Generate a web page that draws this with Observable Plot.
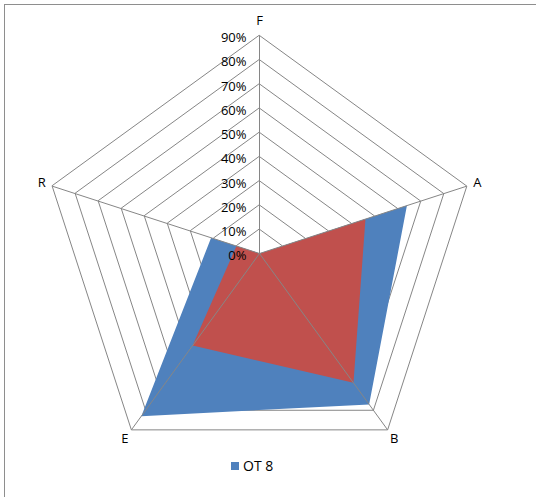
<!DOCTYPE html>
<html>
<head>
<meta charset="utf-8">
<script src="https://cdn.jsdelivr.net/npm/d3@7"></script>
<script src="https://cdn.jsdelivr.net/npm/@observablehq/plot@0.6"></script>
<style>
  body { margin: 0; background: #fff; }
  #frame { position: relative; width: 536px; height: 497px; overflow: hidden; font-family: "Open Sans", sans-serif; }
  #frame .border { position: absolute; left: 4px; top: 4px; right: -4px; bottom: -4px;
    border-left: 1.5px solid #8e8e8e; border-top: 1.5px solid #8e8e8e; }
  #chart { position: absolute; left: 0; top: 0; }
  #legend { position: absolute; left: 231px; top: 456px; font-size: 14px; color: #000;
    display: flex; align-items: center; gap: 4px; }
  #legend .sw { width: 8px; height: 8px; background: #4F81BD; display: inline-block; }
</style>
</head>
<body>
<div id="frame">
  <div class="border"></div>
  <div id="chart"></div>
  <div id="legend"><span class="sw"></span><span>OT 8</span></div>
</div>
<script>
// Radar axes, clockwise from the top
const categories = ["F", "A", "B", "E", "R"];
// Series values in percent
const ot8 = [0, 64, 77, 83, 21];
const otherSeries = [0, 46, 66, 47, 10];
// Radial grid levels and their labels
const levels = [0, 10, 20, 30, 40, 50, 60, 70, 80, 90];
const levelLabels = ["0%", "10%", "20%", "30%", "40%", "50%", "60%", "70%", "80%", "90%"];

const W = 536, H = 497;
const cx = 259, cy = 253;          // pixel centre of the radar
const k = 218 / 90;                 // pixels per percent
const maxLevel = levels[levels.length - 1];

const angle = i => (i * 2 * Math.PI) / categories.length;
const pt = (v, i) => ({ x: v * Math.sin(angle(i)), y: v * Math.cos(angle(i)) });

const rings = levels.slice(1).flatMap(l => categories.map((c, i) => ({ level: l, ...pt(l, i) })));
const spokes = categories.map((c, i) => ({ c, ...pt(maxLevel, i) }));
const polyOT8 = ot8.map((v, i) => pt(v, i));
const polyOther = otherSeries.map((v, i) => pt(v, i));
const labelR = 229 / k;
const catLabels = categories.map((c, i) => ({ c, ...pt(labelR, i) }));

const chart = Plot.plot({
  width: W,
  height: H,
  margin: 0,
  x: { domain: [-cx / k, (W - cx) / k], range: [0, W], axis: null },
  y: { domain: [-(H - cy) / k, cy / k], range: [H, 0], axis: null },
  style: { fontFamily: "'Open Sans', sans-serif", background: "transparent" },
  marks: [
    Plot.line(rings, { x: "x", y: "y", z: "level", curve: "linear-closed", stroke: "#868686", strokeWidth: 1 }),
    Plot.line(polyOT8, { x: "x", y: "y", curve: "linear-closed", fill: "#4F81BD", stroke: "none" }),
    Plot.line(polyOther, { x: "x", y: "y", curve: "linear-closed", fill: "#C0504D", stroke: "none" }),
    Plot.link(spokes, { x1: 0, y1: 0, x2: "x", y2: "y", stroke: "#868686", strokeWidth: 1 }),
    Plot.text(levels, { x: 0, y: d => d, text: (d, i) => levelLabels[i], textAnchor: "end",
      dx: -13, dy: 2.5, fontSize: 13, fill: "#000" }),
    Plot.text(catLabels.slice(0, 1), { x: "x", y: "y", text: "c", lineAnchor: "bottom", fontSize: 13, fill: "#000" }),
    Plot.text(catLabels.slice(1), { x: "x", y: "y", text: "c", fontSize: 13, fill: "#000" })
  ]
});
document.getElementById("chart").appendChild(chart);
</script>
</body>
</html>
